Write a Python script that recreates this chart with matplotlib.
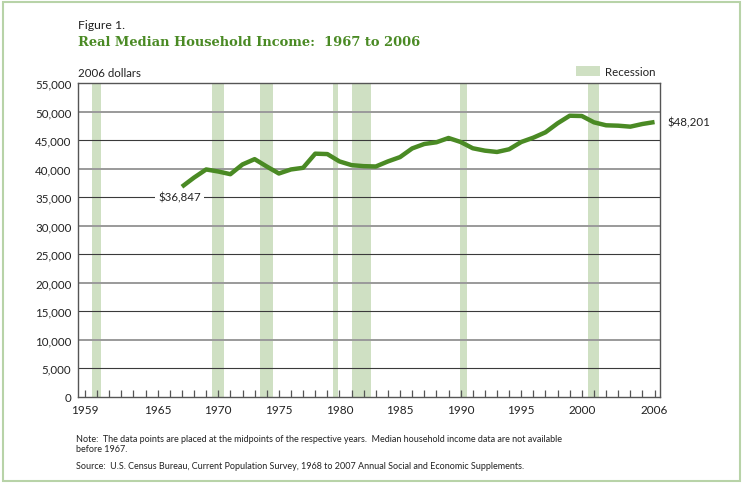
import numpy as np
import matplotlib
matplotlib.use('Agg')
import matplotlib.pyplot as plt
from matplotlib.patches import Rectangle

years = list(range(1967, 2007))
income = [36847, 38450, 39880, 39520, 39050, 40760, 41690, 40400, 39170, 39880,
          40170, 42650, 42580, 41290, 40640, 40460, 40400, 41290, 42050, 43570,
          44350, 44650, 45400, 44700, 43600, 43180, 42950, 43420, 44700, 45460,
          46400, 47980, 49310, 49260, 48150, 47630, 47560, 47390, 47860, 48201]

recessions = [(1959.60, 1960.32), (1969.45, 1970.47), (1973.44, 1974.49),
              (1979.44, 1979.90), (1981.00, 1982.57), (1989.94, 1990.54),
              (2000.55, 2001.43)]

year_labels = [1959, 1965, 1970, 1975, 1980, 1985, 1990, 1995, 2000, 2006]
y_ticks = list(range(0, 55001, 5000))

green = '#4a8a24'
band = '#cfe0c3'
W, H = 746, 485

plt.rcParams['font.family'] = ['Lato', 'DejaVu Sans']

fig = plt.figure(figsize=(W / 100, H / 100), dpi=100)
ax = fig.add_axes([78.3 / W, 1 - 397.7 / H, (660 - 78.3) / W, (397.7 - 84.3) / H])

for a, b in recessions:
    ax.axvspan(a, b, color=band, lw=0, zorder=1)

# alternating grey / dark gridlines
for v in y_ticks[1:-1]:
    if (v // 5000) % 2 == 0:
        ax.axhline(v, color='#9a9a9a', lw=1.4, zorder=2)
    else:
        ax.axhline(v, color='#3a3a3a', lw=0.8, zorder=2)

ax.plot(years, income, color=green, lw=3.2, solid_capstyle='butt',
        solid_joinstyle='round', zorder=4)

ax.set_xlim(1958.45, 2006.45)
ax.set_ylim(0, 55000)
ax.set_yticks(y_ticks)
ax.set_yticklabels([f'{v:,}' for v in y_ticks])
ax.set_xticks(year_labels)
ax.set_xticks(range(1959, 2007), minor=True)
ax.tick_params(axis='y', length=0, pad=5, labelsize=8.3, colors='#222222')
ax.tick_params(axis='x', which='both', direction='in', length=5, width=0.9,
               color='#555555', labelsize=8.5, labelcolor='#222222', pad=5)
for s in ax.spines.values():
    s.set_color('#555555')
    s.set_linewidth(1.0)

ax.text(1966.8, 35000, '$36,847', ha='center', va='center', fontsize=8.3,
        color='#222222', zorder=5,
        bbox=dict(facecolor='white', edgecolor='none', pad=2.0))
ax.text(2007.1, 48201, '$48,201', ha='left', va='center', fontsize=8.3,
        color='#222222', clip_on=False)

fig.text(78 / W, 1 - 29 / H, 'Figure 1.', fontsize=8.8, color='#222222')
fig.text(78 / W, 1 - 46.5 / H, 'Real Median Household Income:  1967 to 2006',
         fontsize=9.35, fontweight='bold', family='DejaVu Serif', color=green)
fig.text(78 / W, 1 - 77 / H, '2006 dollars', fontsize=8.3, color='#222222')

fig.patches.append(Rectangle((575.7 / W, 1 - 77.3 / H), 24.5 / W, 10 / H,
                             transform=fig.transFigure, facecolor=band,
                             edgecolor='none'))
fig.text(605 / W, 1 - 72 / H, 'Recession', fontsize=8.3, va='center',
         color='#222222')

fig.text(76 / W, 1 - 442 / H,
         'Note:  The data points are placed at the midpoints of the respective years.  '
         'Median household income data are not available',
         fontsize=6.45, color='#222222')
fig.text(76 / W, 1 - 452 / H, 'before 1967.', fontsize=6.45, color='#222222')
fig.text(76 / W, 1 - 469 / H,
         'Source:  U.S. Census Bureau, Current Population Survey, 1968 to 2007 '
         'Annual Social and Economic Supplements.',
         fontsize=6.45, color='#222222')

fig.patches.append(Rectangle((3 / W, 3 / H), 737 / W, 479 / H,
                             transform=fig.transFigure, facecolor='none',
                             edgecolor='#b8d3a8', lw=1.5))

fig.savefig('out.png', dpi=100)
